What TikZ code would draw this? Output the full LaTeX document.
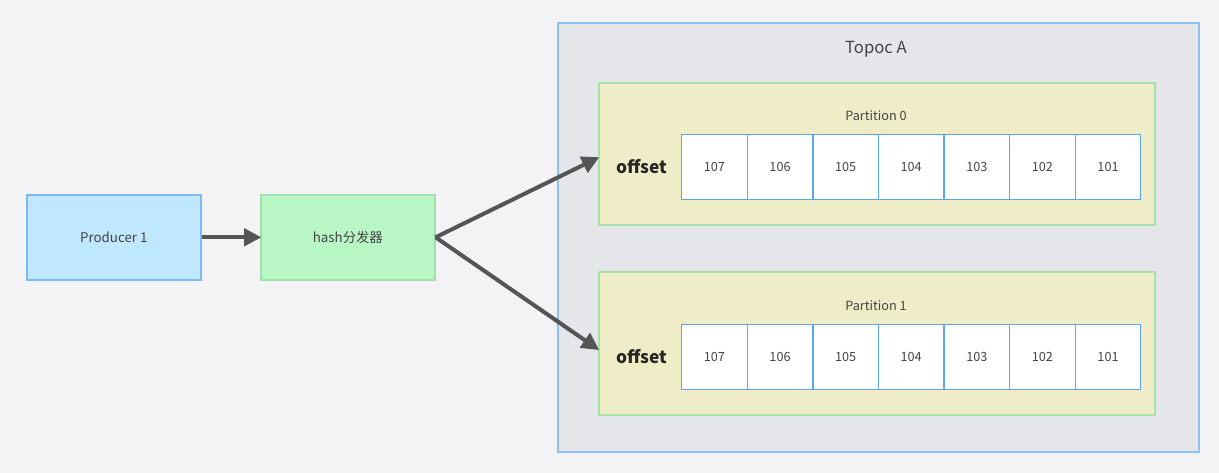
\documentclass[tikz,border=0pt]{standalone}
\usepackage{fontspec}
\setmainfont{Noto Sans CJK SC}
\usetikzlibrary{arrows.meta,calc}
\definecolor{bg}{HTML}{F3F3F6}
\definecolor{prodfill}{HTML}{BFE7FE}
\definecolor{prodline}{HTML}{7DB9F4}
\definecolor{hashfill}{HTML}{B9F6C6}
\definecolor{hashline}{HTML}{9FE0AF}
\definecolor{topicfill}{HTML}{E5E6E9}
\definecolor{topicline}{HTML}{8FC0F2}
\definecolor{partfill}{HTML}{EFEDC8}
\definecolor{partline}{HTML}{A6E2A8}
\definecolor{cellline}{HTML}{5AA6F2}
\definecolor{txt}{HTML}{444444}
\definecolor{arr}{HTML}{555555}
\tikzset{
  box/.style={draw, line width=1.2pt, inner sep=0pt, anchor=north west, text=txt, font=\fontsize{10}{12}\selectfont},
  cell/.style={draw=cellline, fill=white, line width=1pt, minimum width=65.5*0.75pt, minimum height=65*0.75pt, inner sep=0pt, anchor=north west, text=txt, font=\fontsize{9.5}{11}\selectfont},
  lbl/.style={text=txt, inner sep=0pt},
  conn/.style={draw=arr, line width=3pt, -{Triangle[length=13pt,width=13pt]}, shorten >=-1pt}
}
\begin{document}
\begin{tikzpicture}[x=0.75pt,y=-0.75pt]
\useasboundingbox (0,0) rectangle (1219,473);
\fill[bg] (0,0) rectangle (1219,473);
% topic
\node[box, draw=topicline, fill=topicfill, minimum width=641*0.75pt, minimum height=429*0.75pt] (topic) at (557,22) {};
\node[lbl, font=\fontsize{12.5}{14}\selectfont] (tname) at (876,49) {Topoc A};
% partitions
\node[box, draw=partline, fill=partfill, minimum width=556*0.75pt, minimum height=142*0.75pt] (p0) at (598,82) {};
\node[box, draw=partline, fill=partfill, minimum width=556*0.75pt, minimum height=143*0.75pt] (p1) at (598,271) {};
\node[lbl, font=\fontsize{9.5}{11}\selectfont] (p0l) at (876,116) {Partition 0};
\node[lbl, font=\fontsize{9.5}{11}\selectfont] (p1l) at (876,306) {Partition 1};
\node[lbl, font=\fontsize{13}{15}\selectfont\bfseries, text=black!85] (o0) at (642,167) {offset};
\node[lbl, font=\fontsize{13}{15}\selectfont\bfseries, text=black!85] (o1) at (642,357) {offset};
\foreach \n [count=\i from 0] in {107,106,105,104,103,102,101} {
  \node[cell] (a\i) at (681+65.6*\i,134) {\n};
  \node[cell] (b\i) at (681+65.6*\i,324) {\n};
}
% producer and hash
\node[box, draw=prodline, fill=prodfill, minimum width=174*0.75pt, minimum height=85*0.75pt] (prod) at (26,194) {};
\node[lbl, font=\fontsize{10}{12}\selectfont] at (prod.center) {Producer 1};
\node[box, draw=hashline, fill=hashfill, minimum width=174*0.75pt, minimum height=85*0.75pt] (hash) at (260,194) {};
\node[lbl, font=\fontsize{10}{12}\selectfont] at (hash.center) {hash分发器};
% connectors
\draw[conn] (prod.east) -- (hash.west);
\draw[conn] (hash.east) -- ($(p0.west)+(0,4)$);
\draw[conn] (hash.east) -- ($(p1.west)+(0,6)$);
\end{tikzpicture}
\end{document}
